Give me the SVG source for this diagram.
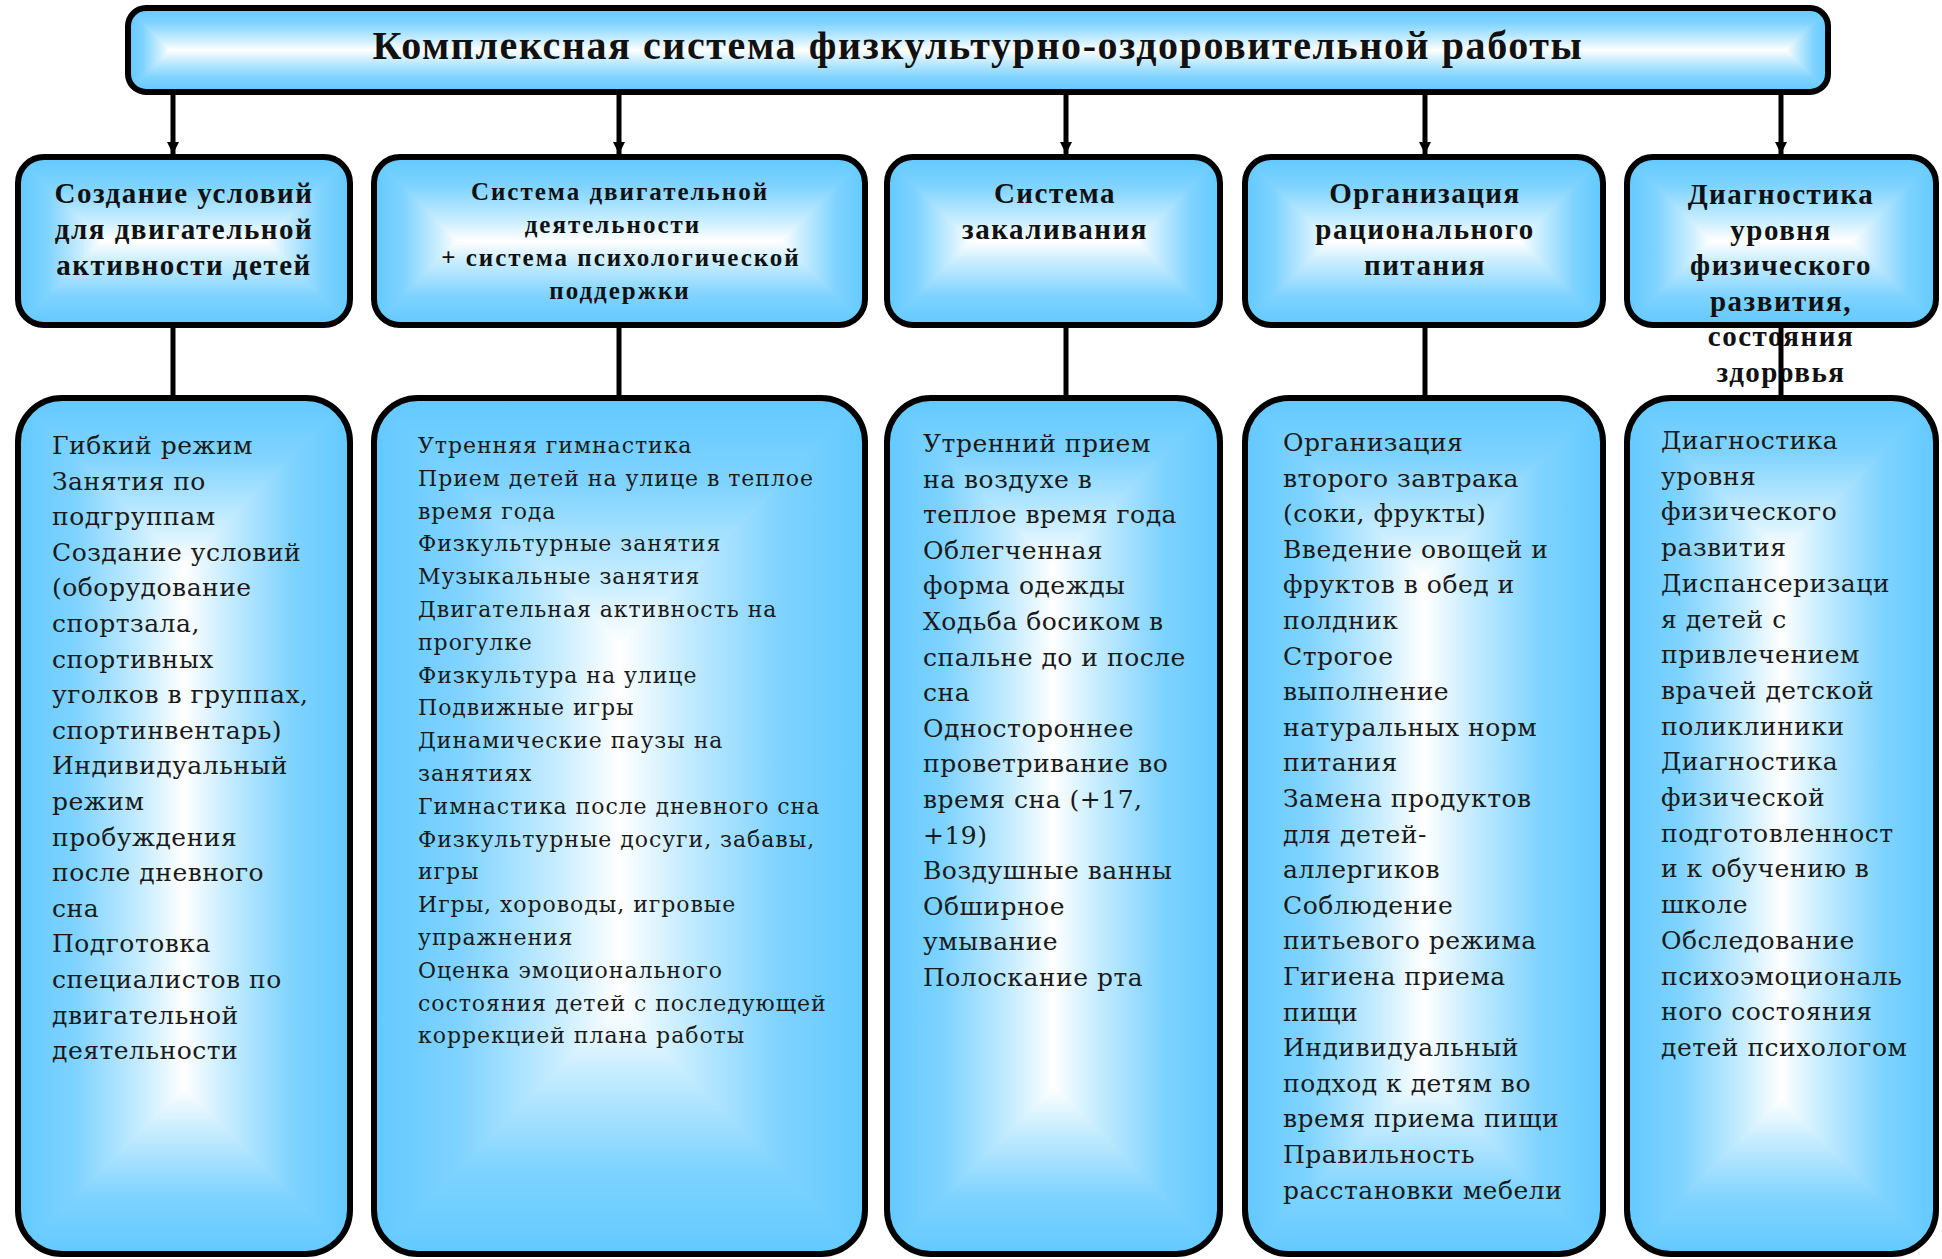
<svg xmlns="http://www.w3.org/2000/svg" width="1942" height="1259" viewBox="0 0 1942 1259">
<style>
.bg{fill:#ffffff}
.edge{fill:none;stroke:#000;stroke-width:6}
.conn{fill:none;stroke:#000;stroke-width:5}
.title{font-family:"Liberation Serif","Times New Roman",serif;font-weight:bold;font-size:40px;letter-spacing:1.6px;text-anchor:middle;fill:#111}
.hd{font-family:"Liberation Serif","Times New Roman",serif;font-weight:bold;font-size:29px;letter-spacing:1.5px;text-anchor:middle;fill:#111}
.hd2{font-family:"Liberation Serif","Times New Roman",serif;font-weight:bold;font-size:25px;letter-spacing:2px;text-anchor:middle;fill:#111}
.bd{font-family:"DejaVu Serif",serif;font-size:25px;letter-spacing:0.5px;fill:#1a1a1a}
.bd2{font-family:"DejaVu Serif",serif;font-size:22px;letter-spacing:0.95px;fill:#1a1a1a}
</style>
<defs>
<linearGradient id="gH" x1="0" y1="0" x2="1" y2="0">
<stop offset="0" stop-color="#62C9FF"/><stop offset="0.175" stop-color="#7FD3FF"/><stop offset="0.375" stop-color="#C8EDFF"/><stop offset="0.5" stop-color="#FFFFFF"/><stop offset="0.625" stop-color="#C8EDFF"/><stop offset="0.825" stop-color="#7FD3FF"/><stop offset="1" stop-color="#62C9FF"/>
</linearGradient>
<linearGradient id="gV" x1="0" y1="0" x2="0" y2="1" href="#gH"/>
<linearGradient id="gL" x1="0" y1="0" x2="1" y2="0">
<stop offset="0" stop-color="#62C9FF"/><stop offset="0.35" stop-color="#7FD3FF"/><stop offset="0.75" stop-color="#C8EDFF"/><stop offset="1" stop-color="#FFFFFF"/>
</linearGradient>
<linearGradient id="gR" x1="1" y1="0" x2="0" y2="0" href="#gL"/>
<linearGradient id="gT" x1="0" y1="0" x2="0" y2="1" href="#gL"/>
<linearGradient id="gB" x1="0" y1="1" x2="0" y2="0" href="#gL"/>
<marker id="arr" viewBox="0 0 10 10" refX="10" refY="5" markerWidth="13" markerHeight="12" markerUnits="userSpaceOnUse" orient="auto">
<path d="M0,0 L10,5 L0,10 z" fill="#000"/>
</marker>
<clipPath id="cT"><rect x="128" y="8" width="1700" height="84" rx="18"/></clipPath>
<clipPath id="cB1"><rect x="18" y="157" width="332" height="168" rx="26"/></clipPath>
<clipPath id="cB2"><rect x="374" y="157" width="491" height="168" rx="26"/></clipPath>
<clipPath id="cB3"><rect x="887" y="157" width="333" height="168" rx="26"/></clipPath>
<clipPath id="cB4"><rect x="1245" y="157" width="358" height="168" rx="26"/></clipPath>
<clipPath id="cB5"><rect x="1627" y="157" width="309" height="168" rx="26"/></clipPath>
<clipPath id="cC1"><rect x="18" y="398" width="332" height="856" rx="44"/></clipPath>
<clipPath id="cC2"><rect x="374" y="398" width="491" height="856" rx="44"/></clipPath>
<clipPath id="cC3"><rect x="887" y="398" width="333" height="856" rx="44"/></clipPath>
<clipPath id="cC4"><rect x="1245" y="398" width="358" height="856" rx="44"/></clipPath>
<clipPath id="cC5"><rect x="1627" y="398" width="309" height="856" rx="44"/></clipPath>
</defs>
<rect class="bg" x="0" y="0" width="1942" height="1259"/>

<g id="title">
<g clip-path="url(#cT)">
<rect x="128" y="8" width="1700" height="84" fill="url(#gV)"/>
<polygon points="128,8 170,50 128,92" fill="url(#gL)"/>
<polygon points="1828,8 1786,50 1828,92" fill="url(#gR)"/>
</g>
<text class="title" x="978" y="59">Комплексная система физкультурно-оздоровительной работы</text>
<rect class="edge" x="128" y="8" width="1700" height="84" rx="18"/>
</g>

<g id="h1">
<g clip-path="url(#cB1)">
<rect x="18" y="157" width="332" height="168" fill="url(#gV)"/>
<polygon points="18,157 102,241 18,325" fill="url(#gL)"/>
<polygon points="350,157 266,241 350,325" fill="url(#gR)"/>
</g>
<text class="hd" y="203"><tspan x="184">Создание условий</tspan><tspan x="184" dy="36">для двигательной</tspan><tspan x="184" dy="36">активности детей</tspan></text>
<rect class="edge" x="18" y="157" width="332" height="168" rx="26"/>
</g>

<g id="h2">
<g clip-path="url(#cB2)">
<rect x="374" y="157" width="491" height="168" fill="url(#gV)"/>
<polygon points="374,157 458,241 374,325" fill="url(#gL)"/>
<polygon points="865,157 781,241 865,325" fill="url(#gR)"/>
</g>
<text class="hd2" y="200"><tspan x="620">Система двигательной</tspan><tspan x="613" dy="33">деятельности</tspan><tspan x="621" dy="33">+ система психологической</tspan><tspan x="620" dy="33">поддержки</tspan></text>
<rect class="edge" x="374" y="157" width="491" height="168" rx="26"/>
</g>

<g id="h3">
<g clip-path="url(#cB3)">
<rect x="887" y="157" width="333" height="168" fill="url(#gV)"/>
<polygon points="887,157 971,241 887,325" fill="url(#gL)"/>
<polygon points="1220,157 1136,241 1220,325" fill="url(#gR)"/>
</g>
<text class="hd" y="203"><tspan x="1055">Система</tspan><tspan x="1055" dy="36">закаливания</tspan></text>
<rect class="edge" x="887" y="157" width="333" height="168" rx="26"/>
</g>

<g id="h4">
<g clip-path="url(#cB4)">
<rect x="1245" y="157" width="358" height="168" fill="url(#gV)"/>
<polygon points="1245,157 1329,241 1245,325" fill="url(#gL)"/>
<polygon points="1603,157 1519,241 1603,325" fill="url(#gR)"/>
</g>
<text class="hd" y="203"><tspan x="1425">Организация</tspan><tspan x="1425" dy="36">рационального</tspan><tspan x="1425" dy="36">питания</tspan></text>
<rect class="edge" x="1245" y="157" width="358" height="168" rx="26"/>
</g>

<g id="h5">
<g clip-path="url(#cB5)">
<rect x="1627" y="157" width="309" height="168" fill="url(#gV)"/>
<polygon points="1627,157 1711,241 1627,325" fill="url(#gL)"/>
<polygon points="1936,157 1852,241 1936,325" fill="url(#gR)"/>
</g>
<text class="hd" y="204"><tspan x="1781">Диагностика</tspan><tspan x="1781" dy="35.6">уровня</tspan><tspan x="1781" dy="35.6">физического</tspan><tspan x="1781" dy="35.6">развития,</tspan><tspan x="1781" dy="35.6">состояния</tspan><tspan x="1781" dy="35.6">здоровья</tspan></text>
<rect class="edge" x="1627" y="157" width="309" height="168" rx="26"/>
</g>

<g id="d1">
<g clip-path="url(#cC1)">
<rect x="18" y="398" width="332" height="856" fill="url(#gH)"/>
<polygon points="18,398 350,398 184,564" fill="url(#gT)"/>
<polygon points="18,1254 350,1254 184,1088" fill="url(#gB)"/>
</g>
<text class="bd" y="454"><tspan x="52">Гибкий режим</tspan><tspan x="52" dy="35.6">Занятия по</tspan><tspan x="52" dy="35.6">подгруппам</tspan><tspan x="52" dy="35.6">Создание условий</tspan><tspan x="52" dy="35.6">(оборудование</tspan><tspan x="52" dy="35.6">спортзала,</tspan><tspan x="52" dy="35.6">спортивных</tspan><tspan x="52" dy="35.6">уголков в группах,</tspan><tspan x="52" dy="35.6">спортинвентарь)</tspan><tspan x="52" dy="35.6">Индивидуальный</tspan><tspan x="52" dy="35.6">режим</tspan><tspan x="52" dy="35.6">пробуждения</tspan><tspan x="52" dy="35.6">после дневного</tspan><tspan x="52" dy="35.6">сна</tspan><tspan x="52" dy="35.6">Подготовка</tspan><tspan x="52" dy="35.6">специалистов по</tspan><tspan x="52" dy="35.6">двигательной</tspan><tspan x="52" dy="35.6">деятельности</tspan></text>
<rect class="edge" x="18" y="398" width="332" height="856" rx="44"/>
</g>

<g id="d2">
<g clip-path="url(#cC2)">
<rect x="374" y="398" width="491" height="856" fill="url(#gH)"/>
<polygon points="374,398 865,398 619.5,643.5" fill="url(#gT)"/>
<polygon points="374,1254 865,1254 619.5,1008.5" fill="url(#gB)"/>
</g>
<text class="bd2" y="453"><tspan x="418">Утренняя гимнастика</tspan><tspan x="418" dy="32.8">Прием детей на улице в теплое</tspan><tspan x="418" dy="32.8">время года</tspan><tspan x="418" dy="32.8">Физкультурные занятия</tspan><tspan x="418" dy="32.8">Музыкальные занятия</tspan><tspan x="418" dy="32.8">Двигательная активность на</tspan><tspan x="418" dy="32.8">прогулке</tspan><tspan x="418" dy="32.8">Физкультура на улице</tspan><tspan x="418" dy="32.8">Подвижные игры</tspan><tspan x="418" dy="32.8">Динамические паузы на</tspan><tspan x="418" dy="32.8">занятиях</tspan><tspan x="418" dy="32.8">Гимнастика после дневного сна</tspan><tspan x="418" dy="32.8">Физкультурные досуги, забавы,</tspan><tspan x="418" dy="32.8">игры</tspan><tspan x="418" dy="32.8">Игры, хороводы, игровые</tspan><tspan x="418" dy="32.8">упражнения</tspan><tspan x="418" dy="32.8">Оценка эмоционального</tspan><tspan x="418" dy="32.8">состояния детей с последующей</tspan><tspan x="418" dy="32.8">коррекцией плана работы</tspan></text>
<rect class="edge" x="374" y="398" width="491" height="856" rx="44"/>
</g>

<g id="d3">
<g clip-path="url(#cC3)">
<rect x="887" y="398" width="333" height="856" fill="url(#gH)"/>
<polygon points="887,398 1220,398 1053.5,564.5" fill="url(#gT)"/>
<polygon points="887,1254 1220,1254 1053.5,1087.5" fill="url(#gB)"/>
</g>
<text class="bd" y="452"><tspan x="923">Утренний прием</tspan><tspan x="923" dy="35.6">на воздухе в</tspan><tspan x="923" dy="35.6">теплое время года</tspan><tspan x="923" dy="35.6">Облегченная</tspan><tspan x="923" dy="35.6">форма одежды</tspan><tspan x="923" dy="35.6">Ходьба босиком в</tspan><tspan x="923" dy="35.6">спальне до и после</tspan><tspan x="923" dy="35.6">сна</tspan><tspan x="923" dy="35.6">Одностороннее</tspan><tspan x="923" dy="35.6">проветривание во</tspan><tspan x="923" dy="35.6">время сна (+17,</tspan><tspan x="923" dy="35.6">+19)</tspan><tspan x="923" dy="35.6">Воздушные ванны</tspan><tspan x="923" dy="35.6">Обширное</tspan><tspan x="923" dy="35.6">умывание</tspan><tspan x="923" dy="35.6">Полоскание рта</tspan></text>
<rect class="edge" x="887" y="398" width="333" height="856" rx="44"/>
</g>

<g id="d4">
<g clip-path="url(#cC4)">
<rect x="1245" y="398" width="358" height="856" fill="url(#gH)"/>
<polygon points="1245,398 1603,398 1424,577" fill="url(#gT)"/>
<polygon points="1245,1254 1603,1254 1424,1075" fill="url(#gB)"/>
</g>
<text class="bd" y="451"><tspan x="1283">Организация</tspan><tspan x="1283" dy="35.6">второго завтрака</tspan><tspan x="1283" dy="35.6">(соки, фрукты)</tspan><tspan x="1283" dy="35.6">Введение овощей и</tspan><tspan x="1283" dy="35.6">фруктов в обед и</tspan><tspan x="1283" dy="35.6">полдник</tspan><tspan x="1283" dy="35.6">Строгое</tspan><tspan x="1283" dy="35.6">выполнение</tspan><tspan x="1283" dy="35.6">натуральных норм</tspan><tspan x="1283" dy="35.6">питания</tspan><tspan x="1283" dy="35.6">Замена продуктов</tspan><tspan x="1283" dy="35.6">для детей-</tspan><tspan x="1283" dy="35.6">аллергиков</tspan><tspan x="1283" dy="35.6">Соблюдение</tspan><tspan x="1283" dy="35.6">питьевого режима</tspan><tspan x="1283" dy="35.6">Гигиена приема</tspan><tspan x="1283" dy="35.6">пищи</tspan><tspan x="1283" dy="35.6">Индивидуальный</tspan><tspan x="1283" dy="35.6">подход к детям во</tspan><tspan x="1283" dy="35.6">время приема пищи</tspan><tspan x="1283" dy="35.6">Правильность</tspan><tspan x="1283" dy="35.6">расстановки мебели</tspan></text>
<rect class="edge" x="1245" y="398" width="358" height="856" rx="44"/>
</g>

<g id="d5">
<g clip-path="url(#cC5)">
<rect x="1627" y="398" width="309" height="856" fill="url(#gH)"/>
<polygon points="1627,398 1936,398 1781.5,552.5" fill="url(#gT)"/>
<polygon points="1627,1254 1936,1254 1781.5,1099.5" fill="url(#gB)"/>
</g>
<text class="bd" y="449"><tspan x="1661">Диагностика</tspan><tspan x="1661" dy="35.7">уровня</tspan><tspan x="1661" dy="35.7">физического</tspan><tspan x="1661" dy="35.7">развития</tspan><tspan x="1661" dy="35.7">Диспансеризаци</tspan><tspan x="1661" dy="35.7">я детей с</tspan><tspan x="1661" dy="35.7">привлечением</tspan><tspan x="1661" dy="35.7">врачей детской</tspan><tspan x="1661" dy="35.7">поликлиники</tspan><tspan x="1661" dy="35.7">Диагностика</tspan><tspan x="1661" dy="35.7">физической</tspan><tspan x="1661" dy="35.7">подготовленност</tspan><tspan x="1661" dy="35.7">и к обучению в</tspan><tspan x="1661" dy="35.7">школе</tspan><tspan x="1661" dy="35.7">Обследование</tspan><tspan x="1661" dy="35.7">психоэмоциональ</tspan><tspan x="1661" dy="35.7">ного состояния</tspan><tspan x="1661" dy="35.7">детей психологом</tspan></text>
<rect class="edge" x="1627" y="398" width="309" height="856" rx="44"/>
</g>

<g id="connectors">
<line class="conn" x1="173" y1="95" x2="173" y2="154" marker-end="url(#arr)"/>
<line class="conn" x1="619" y1="95" x2="619" y2="154" marker-end="url(#arr)"/>
<line class="conn" x1="1066" y1="95" x2="1066" y2="154" marker-end="url(#arr)"/>
<line class="conn" x1="1425" y1="95" x2="1425" y2="154" marker-end="url(#arr)"/>
<line class="conn" x1="1781" y1="95" x2="1781" y2="154" marker-end="url(#arr)"/>
<line class="conn" x1="173" y1="328" x2="173" y2="395"/>
<line class="conn" x1="619" y1="328" x2="619" y2="395"/>
<line class="conn" x1="1066" y1="328" x2="1066" y2="395"/>
<line class="conn" x1="1425" y1="328" x2="1425" y2="395"/>
<line class="conn" x1="1781" y1="328" x2="1781" y2="395"/>
</g>
</svg>
